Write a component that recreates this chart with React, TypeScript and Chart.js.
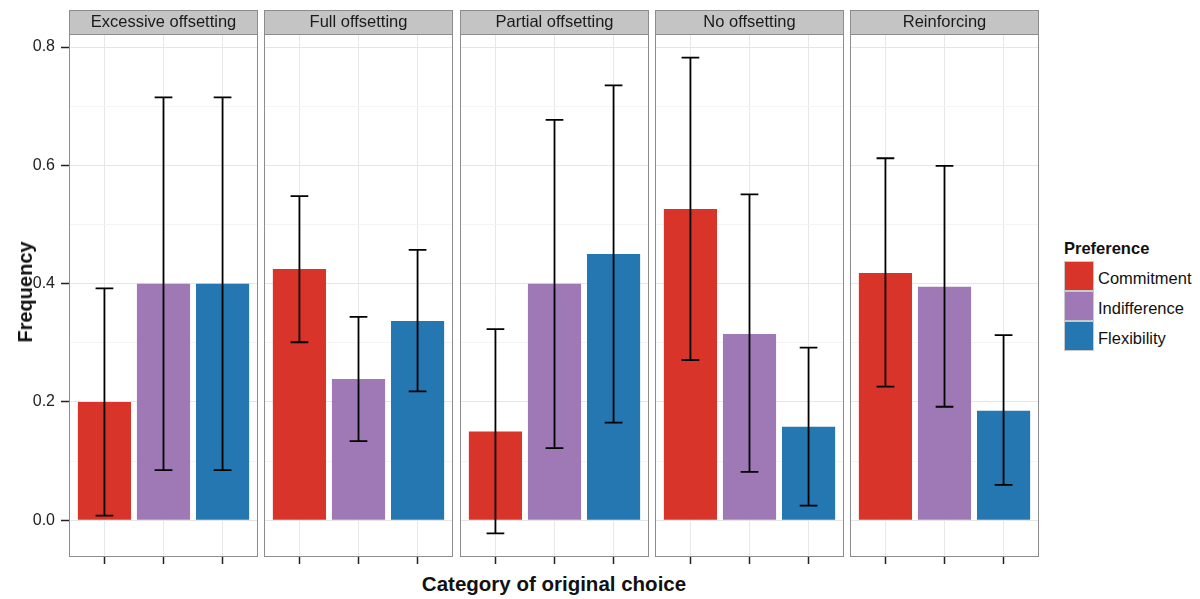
import React, { useEffect, useRef } from "react";
import { Chart, registerables } from "chart.js";

Chart.register(...registerables);

// ---------- data ----------
const PANELS = ["Excessive offsetting", "Full offsetting", "Partial offsetting", "No offsetting", "Reinforcing"];
const PREFS = ["Commitment", "Indifference", "Flexibility"];
const COLORS = ["#d9342a", "#9f79b6", "#2477b0"];

const COMMITMENT = [0.2, 0.425, 0.15, 0.526, 0.418];
const INDIFFERENCE = [0.4, 0.239, 0.4, 0.315, 0.395];
const FLEXIBILITY = [0.4, 0.337, 0.45, 0.158, 0.185];

const COMMITMENT_LO = [0.008, 0.301, -0.022, 0.271, 0.226];
const COMMITMENT_HI = [0.392, 0.548, 0.323, 0.782, 0.612];
const INDIFFERENCE_LO = [0.085, 0.134, 0.122, 0.082, 0.192];
const INDIFFERENCE_HI = [0.715, 0.344, 0.677, 0.551, 0.599];
const FLEXIBILITY_LO = [0.085, 0.218, 0.165, 0.025, 0.06];
const FLEXIBILITY_HI = [0.715, 0.457, 0.735, 0.292, 0.313];

const Y_MAJOR = [0, 0.2, 0.4, 0.6, 0.8];
const Y_MINOR = [0.1, 0.3, 0.5, 0.7];
const Y_MIN = -0.062;
const Y_MAX = 0.822;

// ---------- layout ----------
const FONT = "'Liberation Sans', Arial, Helvetica, sans-serif";
const PANEL_LEFTS = [69, 264, 460, 655, 850];
const PANEL_W = 189;
const STRIP_TOP = 10;
const STRIP_H = 24;
const PLOT_BOTTOM = 557;
const TICK_LEN = 7;

const isMajor = (v: number) => Math.round(v * 10) % 2 === 0;

function Panel({ index }: { index: number }) {
  const ref = useRef<HTMLCanvasElement | null>(null);
  const first = index === 0;
  const yAxisW = first ? PANEL_LEFTS[0] : 0;
  const canvasLeft = first ? 0 : PANEL_LEFTS[index];
  const canvasW = yAxisW + PANEL_W;
  const canvasH = PLOT_BOTTOM - STRIP_TOP + TICK_LEN;

  useEffect(() => {
    const values = [COMMITMENT[index], INDIFFERENCE[index], FLEXIBILITY[index]];
    const lows = [COMMITMENT_LO[index], INDIFFERENCE_LO[index], FLEXIBILITY_LO[index]];
    const highs = [COMMITMENT_HI[index], INDIFFERENCE_HI[index], FLEXIBILITY_HI[index]];

    const stripPlugin = {
      id: "strip",
      beforeDraw(chart: any) {
        const { ctx, chartArea } = chart;
        ctx.save();
        ctx.fillStyle = "#c4c4c4";
        ctx.fillRect(chartArea.left, 0, chartArea.right - chartArea.left, chartArea.top);
        ctx.strokeStyle = "#8c8c8c";
        ctx.lineWidth = 1;
        ctx.strokeRect(chartArea.left + 0.5, 0.5, chartArea.right - chartArea.left - 1, chartArea.top);
        ctx.restore();
      },
      afterDraw(chart: any) {
        const { ctx, chartArea } = chart;
        ctx.save();
        ctx.strokeStyle = "#8c8c8c";
        ctx.lineWidth = 1;
        ctx.strokeRect(
          chartArea.left + 0.5,
          chartArea.top + 0.5,
          chartArea.right - chartArea.left - 1,
          chartArea.bottom - chartArea.top - 1
        );
        ctx.restore();
      },
    };

    const errorPlugin = {
      id: "errorbars",
      afterDatasetsDraw(chart: any) {
        const { ctx } = chart;
        const xs = chart.scales.x;
        const ys = chart.scales.y;
        ctx.save();
        ctx.strokeStyle = "#000";
        ctx.lineWidth = 1.8;
        lows.forEach((lo, i) => {
          const hi = highs[i];
          const xc = xs.getPixelForValue(i + 1);
          const xl = xs.getPixelForValue(i + 1 - 0.15);
          const xr = xs.getPixelForValue(i + 1 + 0.15);
          const yl = ys.getPixelForValue(lo);
          const yh = ys.getPixelForValue(hi);
          ctx.beginPath();
          ctx.moveTo(xc, yl);
          ctx.lineTo(xc, yh);
          ctx.moveTo(xl, yl);
          ctx.lineTo(xr, yl);
          ctx.moveTo(xl, yh);
          ctx.lineTo(xr, yh);
          ctx.stroke();
        });
        ctx.restore();
      },
    };

    const zeroPad = (s: any) => {
      s.paddingTop = 0;
      s.paddingBottom = 0;
      s.paddingLeft = 0;
      s.paddingRight = 0;
    };

    const chart = new Chart(ref.current as HTMLCanvasElement, {
      type: "bar",
      data: {
        datasets: [
          {
            data: values.map((v, i) => ({ x: i + 1, y: v })),
            backgroundColor: COLORS,
            borderWidth: 0,
            barPercentage: 0.9,
            categoryPercentage: 1,
          },
        ],
      },
      options: {
        responsive: false,
        animation: false,
        layout: { padding: 0, autoPadding: false },
        plugins: {
          legend: { display: false },
          tooltip: { enabled: false },
          title: {
            display: true,
            text: PANELS[index],
            fullSize: false,
            color: "#1a1a1a",
            font: { family: FONT, size: 16.5, weight: "normal", lineHeight: 1.2 },
            padding: { top: (STRIP_H - 16.5 * 1.2) / 2, bottom: (STRIP_H - 16.5 * 1.2) / 2 },
          },
        },
        scales: {
          x: {
            type: "linear",
            min: 0.4,
            max: 3.6,
            offset: false,
            afterBuildTicks: (s: any) => {
              s.ticks = PREFS.map((_, i) => ({ value: i + 1 }));
            },
            afterFit: zeroPad,
            ticks: { display: false },
            border: { display: false },
            grid: {
              offset: false,
              color: "#e8e8e8",
              lineWidth: 1,
              drawTicks: true,
              tickLength: TICK_LEN,
              tickColor: "#222",
              tickWidth: 1.5,
            },
          },
          y: {
            type: "linear",
            min: Y_MIN,
            max: Y_MAX,
            afterBuildTicks: (s: any) => {
              s.ticks = [...Y_MAJOR, ...Y_MINOR].sort((a, b) => a - b).map((v) => ({ value: v }));
            },
            afterFit: (s: any) => {
              s.width = yAxisW;
              zeroPad(s);
            },
            border: { display: false },
            ticks: {
              display: first,
              padding: 6,
              color: "#222",
              font: { family: FONT, size: 16 },
              callback: (v: any) => (isMajor(Number(v)) ? Number(v).toFixed(1) : ""),
            },
            grid: {
              color: (c: any) => (c.tick && isMajor(c.tick.value) ? "#e6e6e6" : "#f4f4f4"),
              lineWidth: 1,
              drawTicks: first,
              tickLength: 8,
              tickWidth: 1.5,
              tickColor: (c: any) => (c.tick && isMajor(c.tick.value) ? "#222" : "rgba(0,0,0,0)"),
            },
          },
        },
      },
      plugins: [stripPlugin, errorPlugin],
    } as any);
    return () => chart.destroy();
  }, [index]);

  return (
    <canvas
      ref={ref}
      width={canvasW}
      height={canvasH}
      style={{ position: "absolute", left: canvasLeft, top: STRIP_TOP, width: canvasW, height: canvasH }}
    />
  );
}

export default function App() {
  const textBase: React.CSSProperties = {
    position: "absolute",
    fontFamily: FONT,
    color: "#111",
    whiteSpace: "nowrap",
  };
  return (
    <div style={{ position: "absolute", left: 0, top: 0, width: 1200, height: 599, background: "#fff", overflow: "hidden" }}>
      {PANELS.map((_, i) => (
        <Panel key={i} index={i} />
      ))}
      <div
        style={{
          ...textBase,
          left: 554,
          top: 574.3,
          fontSize: 20.5,
          lineHeight: "20.5px",
          fontWeight: "bold",
          transform: "translateX(-50%)",
        }}
      >
        Category of original choice
      </div>
      <div
        style={{
          ...textBase,
          left: 24.5,
          top: 291.5,
          fontSize: 20,
          lineHeight: "20px",
          fontWeight: "bold",
          transform: "translate(-50%, -50%) rotate(-90deg)",
        }}
      >
        Frequency
      </div>
      <div style={{ ...textBase, left: 1064, top: 239.5, fontSize: 16.5, lineHeight: "16.5px", fontWeight: "bold" }}>
        Preference
      </div>
      {PREFS.map((p, i) => (
        <React.Fragment key={p}>
          <div
            style={{
              position: "absolute",
              left: 1064,
              top: 261 + i * 30,
              width: 30,
              height: 30,
              boxSizing: "border-box",
              border: "1px solid #c9c9c9",
              background: COLORS[i],
            }}
          />
          <div style={{ ...textBase, left: 1098, top: 269.5 + i * 30, fontSize: 16.5, lineHeight: "16.5px" }}>{p}</div>
        </React.Fragment>
      ))}
    </div>
  );
}
